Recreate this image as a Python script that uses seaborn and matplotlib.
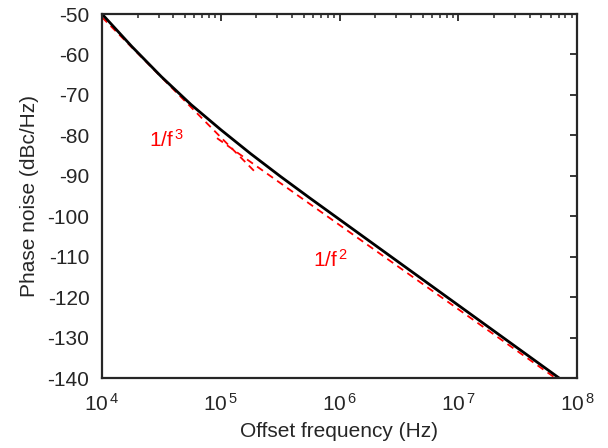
import numpy as np
import pandas as pd
import matplotlib
matplotlib.use("Agg")
import matplotlib.pyplot as plt
import seaborn as sns
from matplotlib.ticker import FixedLocator, NullFormatter

# ---- data ----
freq_total = [1e4, 1.778e4, 3.162e4, 5.623e4, 1e5, 1.778e5, 3.162e5, 5.623e5,
              1e6, 1.778e6, 3.162e6, 5.623e6, 1e7, 1.778e7, 3.162e7, 5.623e7, 1e8]
pn_total = [-50.0, -58.0, -65.5, -72.4, -78.6, -84.5, -90.1, -95.5,
            -100.8, -106.1, -111.4, -116.7, -122.0, -127.3, -132.6, -137.9, -143.2]

freq_f3 = [1e4, 2e5]
pn_f3 = [-50.8, -89.4]

freq_f2 = [9.3e4, 1e8]
pn_f2 = [-80.7, -143.8]

label_f3 = "1/f$^{\\,3}$"
label_f2 = "1/f$^{\\,2}$"
xlabel = "Offset frequency (Hz)"
ylabel = "Phase noise (dBc/Hz)"
yticks = [-140, -130, -120, -110, -100, -90, -80, -70, -60, -50]
xticks = [1e4, 1e5, 1e6, 1e7, 1e8]
xticklabels = ["$10^{\\,4}$", "$10^{\\,5}$", "$10^{\\,6}$", "$10^{\\,7}$", "$10^{\\,8}$"]
xminor = [m * 10.0 ** e for e in range(4, 8) for m in range(2, 10)]

sns.set_style("white")
plt.rcParams['font.family'] = ['Liberation Sans', 'DejaVu Sans']
plt.rcParams['mathtext.fontset'] = 'custom'
plt.rcParams['mathtext.rm'] = 'Liberation Sans'
plt.rcParams['mathtext.it'] = 'Liberation Sans'
plt.rcParams['mathtext.bf'] = 'Liberation Sans'
plt.rcParams['mathtext.default'] = 'regular'

FS = 15
fig = plt.figure(figsize=(6.08, 4.48), dpi=100)
ax = fig.add_axes([102/608, 1 - 378/448, (577 - 102)/608, (378 - 14)/448])

df_tot = pd.DataFrame({"f": freq_total, "pn": pn_total})
df3 = pd.DataFrame({"f": freq_f3, "pn": pn_f3})
df2 = pd.DataFrame({"f": freq_f2, "pn": pn_f2})

sns.lineplot(data=df3, x="f", y="pn", ax=ax, color="#ff0000", lw=1.3,
             estimator=None, sort=False)
sns.lineplot(data=df2, x="f", y="pn", ax=ax, color="#ff0000", lw=1.3,
             estimator=None, sort=False)
for ln in ax.lines:
    ln.set_linestyle((0, (4.0, 2.8)))
sns.lineplot(data=df_tot, x="f", y="pn", ax=ax, color="black", lw=2.0,
             estimator=None, sort=False)

ax.set_xscale("log")
ax.set_xlim(1e4, 1e8)
ax.set_ylim(-140, -50)
ax.xaxis.set_major_locator(FixedLocator(xticks))
ax.set_xticklabels(xticklabels)
ax.xaxis.set_minor_locator(FixedLocator(xminor))
ax.xaxis.set_minor_formatter(NullFormatter())
ax.set_yticks(yticks)
ax.set_yticklabels([str(v) for v in yticks])

ax.set_xlabel(xlabel, fontsize=FS, color="#262626", labelpad=5)
ax.set_ylabel(ylabel, fontsize=FS, color="#262626", labelpad=6)

for sp in ax.spines.values():
    sp.set_visible(True)
    sp.set_linewidth(1.6)
    sp.set_color("#262626")

ax.tick_params(which="major", direction="in", length=5, width=1.3,
               top=True, right=True, labelsize=FS, colors="#262626")
ax.tick_params(axis="x", which="major", pad=11)
ax.tick_params(axis="y", which="major", pad=9)
ax.tick_params(which="minor", direction="in", length=3, width=1.1,
               top=True, right=True, colors="#262626")

ax.text(2.48e4, -82.9, label_f3, color="#ff0000", fontsize=FS, va="baseline", ha="left")
ax.text(5.93e5, -112.6, label_f2, color="#ff0000", fontsize=FS, va="baseline", ha="left")

fig.savefig("out.png", dpi=100)
